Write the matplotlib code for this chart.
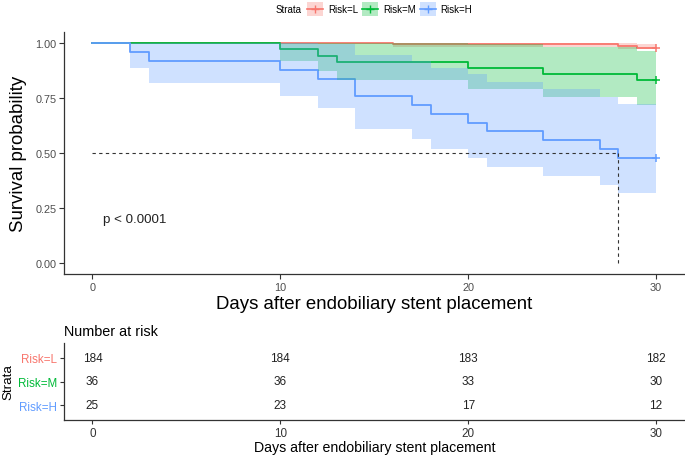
import matplotlib
matplotlib.use("Agg")
import matplotlib.pyplot as plt
from matplotlib.patches import Rectangle
from matplotlib.lines import Line2D

plt.rcParams['font.family'] = ['Liberation Sans', 'DejaVu Sans']

# ---------------- data ----------------
strata = ["Risk=L", "Risk=M", "Risk=H"]
colors = ["#F8766D", "#00BA38", "#619CFF"]

times_L = [0, 16, 28, 29]
surv_L = [1.0, 0.995, 0.989, 0.977]
lower_L = [1.0, 0.984, 0.976, 0.973]
upper_L = [1.0, 1.0, 1.0, 0.999]

times_M = [0, 10, 12, 13, 20, 24, 29]
surv_M = [1.0, 0.972, 0.944, 0.917, 0.889, 0.861, 0.833]
lower_M = [1.0, 0.920, 0.873, 0.831, 0.792, 0.755, 0.720]
upper_M = [1.0, 1.0, 1.0, 1.0, 0.998, 0.982, 0.964]

times_H = [0, 2, 3, 10, 12, 14, 17, 18, 20, 21, 24, 27, 28]
surv_H = [1.0, 0.96, 0.92, 0.88, 0.84, 0.76, 0.72, 0.68, 0.64, 0.60, 0.56, 0.52, 0.48]
lower_H = [1.0, 0.886, 0.820, 0.761, 0.708, 0.610, 0.564, 0.520, 0.477, 0.436, 0.396, 0.357, 0.319]
upper_H = [1.0, 1.0, 1.0, 1.0, 0.997, 0.947, 0.919, 0.890, 0.859, 0.826, 0.793, 0.758, 0.722]

end_time = 30
median_H = 28

risk_times = [0, 10, 20, 30]
risk_L = [184, 184, 183, 182]
risk_M = [36, 36, 33, 30]
risk_H = [25, 23, 17, 12]

x_ticks = [0, 10, 20, 30]
y_ticks = [0.00, 0.25, 0.50, 0.75, 1.00]
y_ticklabels = ["0.00", "0.25", "0.50", "0.75", "1.00"]
pval_text = "p < 0.0001"
xlabel = "Days after endobiliary stent placement"

# ---------------- figure ----------------
W, H = 685, 456
fig = plt.figure(figsize=(W / 100, H / 100), dpi=100)

def fx(px):
    return px / W

def fy(py):
    return 1 - py / H

axc = "#333333"
ax = fig.add_axes([fx(64.3), fy(275.3), fx(684.2 - 64.3), (275.3 - 33.3) / H])
ax.set_xlim(-1.5, 31.5)
ax.set_ylim(-0.05, 1.05)

series = [
    (times_L, surv_L, lower_L, upper_L),
    (times_M, surv_M, lower_M, upper_M),
    (times_H, surv_H, lower_H, upper_H),
]

for (t, s, lo, up), c in zip(series, colors):
    te = list(t) + [end_time]
    se = list(s) + [s[-1]]
    ax.step(te, se, where='post', color=c, lw=1.3, zorder=2)
    ax.plot([end_time], [s[-1]], marker='+', color=c, ms=6, mew=1.1, zorder=5)

for (t, s, lo, up), c in zip(series, colors):
    te = list(t) + [end_time]
    loe = list(lo) + [lo[-1]]
    upe = list(up) + [up[-1]]
    ax.fill_between(te, loe, upe, step='post', color=c, alpha=0.3, lw=0, zorder=3)

# median line
ax.plot([0, median_H], [0.5, 0.5], ls=(0, (3, 3)), color="#333333", lw=0.8, zorder=6)
ax.plot([median_H, median_H], [0.5, 0], ls=(0, (3, 3)), color="#333333", lw=0.8, zorder=6)

ax.text(0.57, 0.2, pval_text, fontsize=9.6, va='center', ha='left', color='#222222')

for sp in ['top', 'right']:
    ax.spines[sp].set_visible(False)
for sp in ['left', 'bottom']:
    ax.spines[sp].set_color(axc)
    ax.spines[sp].set_linewidth(0.9)
ax.set_xticks(x_ticks)
ax.set_yticks(y_ticks)
ax.set_yticklabels(y_ticklabels)
ax.tick_params(axis='both', colors=axc, labelcolor='#4d4d4d', labelsize=7.8, length=3.5, width=0.8, pad=2)
ax.set_xlabel(xlabel, fontsize=13.4, color='black', labelpad=2)
ax.set_ylabel("Survival probability", fontsize=13.4, color='black', labelpad=6)

# ---------------- legend (top) ----------------
fig.text(fx(302), fy(10), "Strata", fontsize=7, ha='right', va='center', color='black')
key_left = [307, 362, 420]
text_left = [328, 383, 440]
for kl, tl, c, lab in zip(key_left, text_left, colors, strata):
    fig.add_artist(Rectangle((fx(kl), fy(17)), fx(16), 14 / H, transform=fig.transFigure,
                             facecolor=c, alpha=0.3, lw=0))
    fig.add_artist(Line2D([fx(kl), fx(kl + 16)], [fy(10), fy(10)], transform=fig.transFigure,
                          color=c, lw=1.2))
    fig.add_artist(Line2D([fx(kl + 8)], [fy(10)], transform=fig.transFigure, color=c,
                          marker='+', ms=5.5, mew=1.0))
    fig.text(fx(tl), fy(10), lab, fontsize=7, ha='left', va='center', color='black')

# ---------------- risk table ----------------
ax2 = fig.add_axes([fx(64.3), fy(420.7), fx(684.2 - 64.3), (420.7 - 344.3) / H])
ax2.set_xlim(-1.5, 31.5)
ax2.set_ylim(3.6, 0.4)
for row, vals in enumerate([risk_L, risk_M, risk_H], start=1):
    for t, v in zip(risk_times, vals):
        ax2.text(t, row, str(v), ha='center', va='center', fontsize=8.5, color='#222222')
ax2.set_yticks([1, 2, 3])
ax2.set_xticks(x_ticks)
for sp in ['top', 'right']:
    ax2.spines[sp].set_visible(False)
for sp in ['left', 'bottom']:
    ax2.spines[sp].set_color(axc)
    ax2.spines[sp].set_linewidth(0.9)
ax2.tick_params(axis='both', colors=axc, labelsize=8.4, length=3, width=0.8, pad=2)
ax2.tick_params(axis='x', labelcolor='#333333')
ax2.set_yticklabels(strata)
for lbl, c in zip(ax2.get_yticklabels(), colors):
    lbl.set_color(c)
ax2.set_xlabel(xlabel, fontsize=10.2, color='black', labelpad=1)
ax2.set_ylabel("Strata", fontsize=9.6, color='black', labelpad=3)
ax2.set_title("Number at risk", fontsize=10.4, loc='left', pad=6, color='black')

fig.savefig("out.png", dpi=100)
